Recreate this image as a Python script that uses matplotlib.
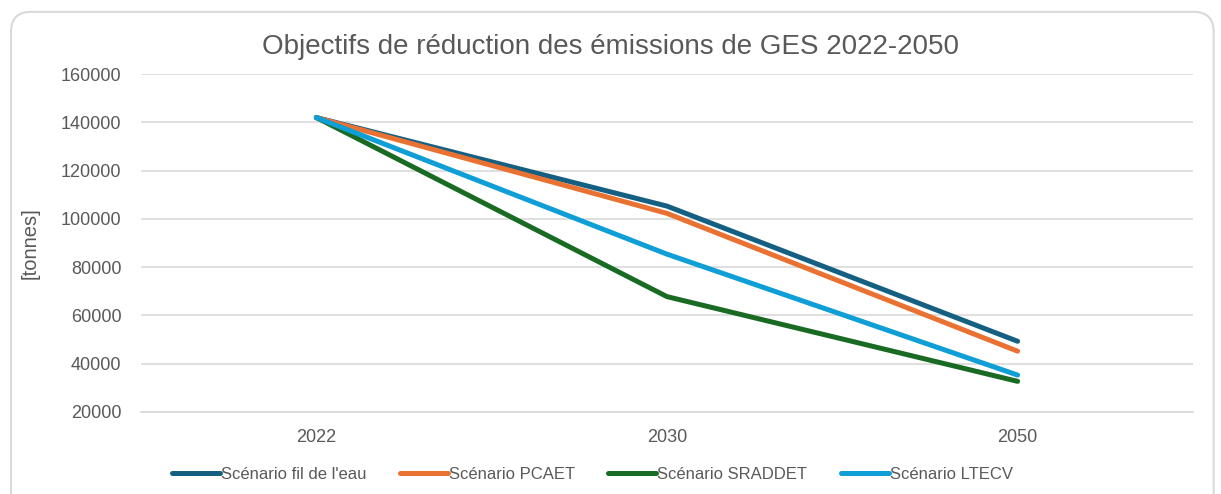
import matplotlib.pyplot as plt
from matplotlib.patches import FancyBboxPatch

years = ['2022', '2030', '2050']
fil_de_leau = [142000, 105300, 49300]
pcaet = [142000, 102300, 45200]
sraddet = [142000, 67800, 32700]
ltecv = [142000, 85400, 35300]

series = [
    ('Scénario fil de l\'eau', fil_de_leau, '#156082'),
    ('Scénario PCAET', pcaet, '#E97132'),
    ('Scénario SRADDET', sraddet, '#196B24'),
    ('Scénario LTECV', ltecv, '#0F9ED5'),
]

plt.rcParams['font.family'] = ['Liberation Sans', 'DejaVu Sans']

fig = plt.figure(figsize=(12.21, 4.94), dpi=100)
fig.patch.set_facecolor('white')

# rounded chart border (bottom edge runs off the picture)
border = FancyBboxPatch((0.009, -0.06), 0.985, 1.036, boxstyle='round,pad=0,rounding_size=0.0164',
                        transform=fig.transFigure, facecolor='none', edgecolor='#d9d9d9',
                        linewidth=1.5, mutation_aspect=1221 / 494, zorder=-1)
fig.patches.append(border)

ax = fig.add_axes([0.1155, 0.166, 0.8615, 0.684])
ax.patch.set_alpha(0)
x = list(range(len(years)))
for label, vals, color in series:
    ax.plot(x, vals, color=color, linewidth=3.6, label=label, solid_capstyle='round')

ax.set_xlim(-0.5, 2.5)
ax.set_ylim(20000, 160000)
ax.set_yticks(range(20000, 160001, 20000))
ax.set_xticks(x)
ax.set_xticklabels(years)
ax.grid(axis='y', color='#d9d9d9', linewidth=1.2)
ax.set_axisbelow(True)
for s in ['top', 'right', 'left']:
    ax.spines[s].set_visible(False)
ax.spines['bottom'].set_color('#d9d9d9')
ax.spines['bottom'].set_linewidth(1.2)
ax.tick_params(length=0, labelsize=13, colors='#595959')
ax.tick_params(axis='x', pad=12)
ax.tick_params(axis='y', pad=14)

ax.set_ylabel('[tonnes]', fontsize=14.5, color='#595959')
ax.yaxis.set_label_coords(-0.096, 0.5)
fig.text(0.5, 0.905, 'Objectifs de réduction des émissions de GES 2022-2050',
         ha='center', va='center', fontsize=20, color='#595959')

leg = fig.legend(loc='center', bbox_to_anchor=(0.485, 0.04), ncol=4, frameon=False,
                 handlelength=2.9, handletextpad=0.05, columnspacing=2.0,
                 prop={'size': 12})
for t in leg.get_texts():
    t.set_color('#595959')

fig.savefig('out.png', dpi=100)
